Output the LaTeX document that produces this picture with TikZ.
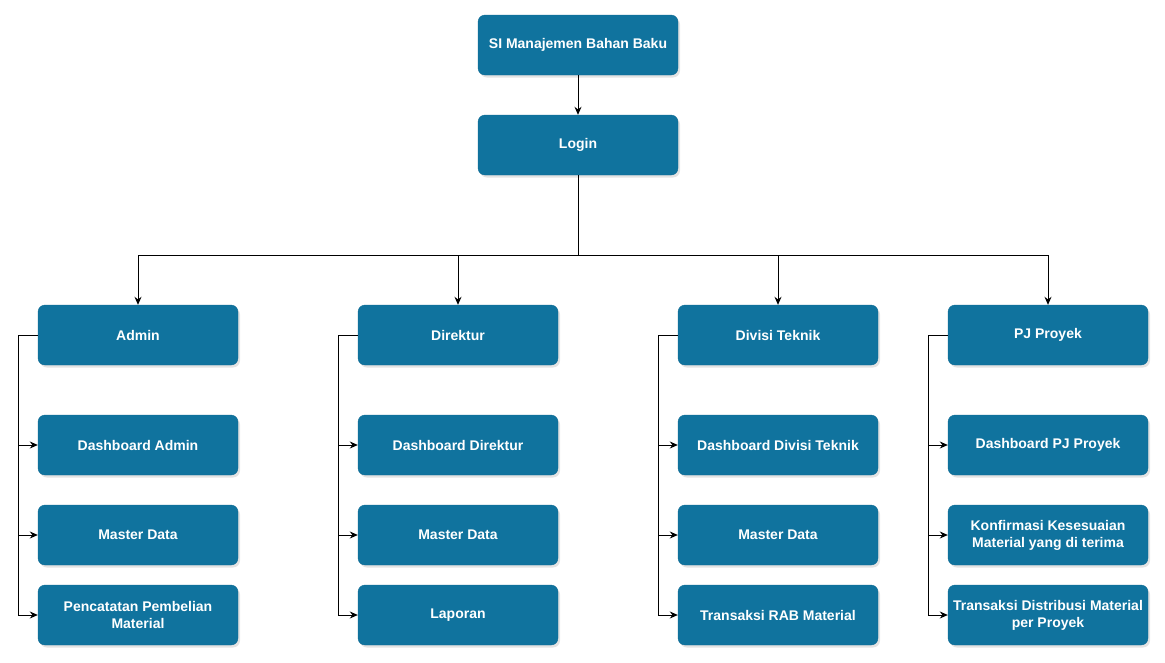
\documentclass[tikz,border=0pt]{standalone}
\usepackage{fontspec}
\setmainfont{Liberation Sans}
\usetikzlibrary{arrows.meta,shadows}
\definecolor{boxblue}{HTML}{10739E}
\definecolor{boxedge}{HTML}{0E6A93}
\tikzset{
  box/.style={draw=boxedge, fill=boxblue, rounded corners=7pt, minimum width=200pt, minimum height=60pt,
    text=white, font=\bfseries\fontsize{14pt}{17pt}\selectfont, align=center, inner sep=2pt,
    drop shadow={opacity=0.22, shadow xshift=2pt, shadow yshift=-2.5pt}},
  arr/.style={draw=black, line width=1pt, -{Stealth[length=8pt,width=7pt]}},
  ln/.style={draw=black, line width=1pt}
}
\begin{document}
\begin{tikzpicture}[x=1pt,y=-1pt]
\useasboundingbox (0,0) rectangle (1165,662);
\node[box] (root) at (578,45) {SI Manajemen Bahan Baku};
\node[box] (login) at (578,145) {Login};
\node[box] (admin) at (138,335) {Admin};
\node[box] (dir) at (458,335) {Direktur};
\node[box] (div) at (778,335) {Divisi Teknik};
\node[box] (pj) at (1048,335) {PJ Proyek};
% admin children
\node[box] (a1) at (138,445) {Dashboard Admin};
\node[box] (a2) at (138,535) {Master Data};
\node[box] (a3) at (138,615) {Pencatatan Pembelian\\Material};
% direktur children
\node[box] (d1) at (458,445) {Dashboard Direktur};
\node[box] (d2) at (458,535) {Master Data};
\node[box] (d3) at (458,615) {Laporan};
% divisi children
\node[box] (t1) at (778,445) {Dashboard Divisi Teknik};
\node[box] (t2) at (778,535) {Master Data};
\node[box] (t3) at (778,615) {Transaksi RAB Material};
% pj children
\node[box] (p1) at (1048,445) {Dashboard PJ Proyek};
\node[box] (p2) at (1048,535) {Konfirmasi Kesesuaian\\Material yang di terima};
\node[box] (p3) at (1048,615) {Transaksi Distribusi Material\\per Proyek};
% bus
\coordinate (bus) at (578,255);
\draw[arr] (root) -- (login);
\draw[arr] (login.south) -- (bus) -| (admin.north);
\draw[arr] (bus) -| (dir.north);
\draw[arr] (bus) -| (div.north);
\draw[arr] (bus) -| (pj.north);
% trunks
\coordinate (ta) at (18,335);
\coordinate (td) at (338,335);
\coordinate (tt) at (658,335);
\coordinate (tp) at (928,335);
\draw[ln] (admin.west) -- (ta);
\draw[ln] (dir.west) -- (td);
\draw[ln] (div.west) -- (tt);
\draw[ln] (pj.west) -- (tp);
\foreach \c in {a1,a2,a3} \draw[arr] (ta) |- (\c.west);
\foreach \c in {d1,d2,d3} \draw[arr] (td) |- (\c.west);
\foreach \c in {t1,t2,t3} \draw[arr] (tt) |- (\c.west);
\foreach \c in {p1,p2,p3} \draw[arr] (tp) |- (\c.west);
\end{tikzpicture}
\end{document}
